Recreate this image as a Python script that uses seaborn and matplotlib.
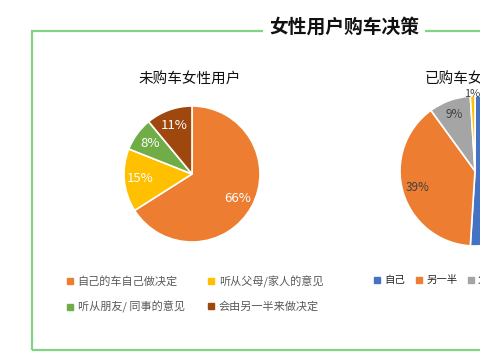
import numpy as np
import matplotlib.pyplot as plt
import matplotlib as mpl
from matplotlib.lines import Line2D
from matplotlib.patches import Rectangle
import seaborn as sns

sns.set_theme(style="white")
plt.rcParams['font.family'] = ['Noto Sans CJK SC', 'DejaVu Sans']

# data
title = "女性用户购车决策"
left_title = "未购车女性用户"
left_labels = ["自己的车自己做决定", "听从父母/家人的意见", "听从朋友/ 同事的意见", "会由另一半来做决定"]
left_values = [66, 15, 8, 11]
left_colors = ["#ED7D31", "#FFC000", "#70AD47", "#9E480E"]

right_title = "已购车女性用户"
right_labels = ["自己", "另一半", "父母", "朋友"]
right_values = [51, 39, 9, 1]
right_colors = ["#4472C4", "#ED7D31", "#A5A5A5", "#FFC000"]

W, H = 480, 360
fig = plt.figure(figsize=(4.8, 3.6), dpi=100)
fig.patch.set_facecolor("white")


def px_axes(cx, cy, r):
    # axes in pixel coords (top-left origin), square around pie centre
    return fig.add_axes([(cx - r) / W, (H - cy - r) / H, 2 * r / W, 2 * r / H])


# green frame
fig.patches.append(Rectangle((32 / W, (H - 349.5) / H), 470 / W, 318.5 / H,
                             transform=fig.transFigure, fill=False,
                             edgecolor="#84D384", linewidth=1.6))
fig.text(344 / W, 1 - 27 / H, title, ha="center", va="center",
         fontsize=13.5, fontweight="bold", color="#111111",
         bbox=dict(facecolor="white", edgecolor="none", pad=4))

# left pie
ax1 = px_axes(192, 174, 68)
wedges1, _, texts1 = ax1.pie(left_values, colors=left_colors, startangle=90,
                             counterclock=False, radius=1, autopct="%d%%",
                             pctdistance=0.76,
                             wedgeprops=dict(edgecolor="white", linewidth=1.2),
                             textprops=dict(color="white", fontsize=9.5))
ax1.set_xlim(-1, 1)
ax1.set_ylim(-1, 1)
fig.text(190 / W, 1 - 80 / H, left_title, ha="center", va="center",
         fontsize=10.5, color="#111111")

# right pie
ax2 = px_axes(475, 171, 75)
wedges2, _, texts2 = ax2.pie(right_values, colors=right_colors, startangle=90,
                             counterclock=False, radius=1, autopct="%d%%",
                             pctdistance=0.8,
                             wedgeprops=dict(edgecolor="white", linewidth=1.2),
                             textprops=dict(color="#404040", fontsize=8.5))
# small slice label sits just outside the pie
w = wedges2[-1]
ang = np.deg2rad((w.theta1 + w.theta2) / 2)
texts2[-1].set_position((1.03 * np.cos(ang), 1.03 * np.sin(ang)))
texts2[-1].set_fontsize(8)
ax2.set_xlim(-1, 1)
ax2.set_ylim(-1, 1)
fig.text(476 / W, 1 - 80 / H, right_title, ha="center", va="center",
         fontsize=10.5, color="#111111")

# legends
def handle(c):
    return Line2D([], [], marker="s", linestyle="none", markersize=4,
                  markerfacecolor=c, markeredgecolor=c)

order = [0, 2, 1, 3]
leg1 = fig.legend([handle(left_colors[i]) for i in order],
                  [left_labels[i] for i in order],
                  ncol=2, loc="upper left", bbox_to_anchor=(62 / W, 1 - 271 / H),
                  frameon=False, fontsize=8, handlelength=0.6, handletextpad=0.4,
                  columnspacing=2.1, labelspacing=1.25, borderaxespad=0,
                  labelcolor="#595959")

leg2 = fig.legend([handle(c) for c in right_colors], right_labels,
                  ncol=4, loc="upper left", bbox_to_anchor=(370 / W, 1 - 271 / H),
                  frameon=False, fontsize=7.5, handlelength=0.6, handletextpad=0.4,
                  columnspacing=1.0, borderaxespad=0, labelcolor="#262626")

fig.savefig("out.png", dpi=100)
